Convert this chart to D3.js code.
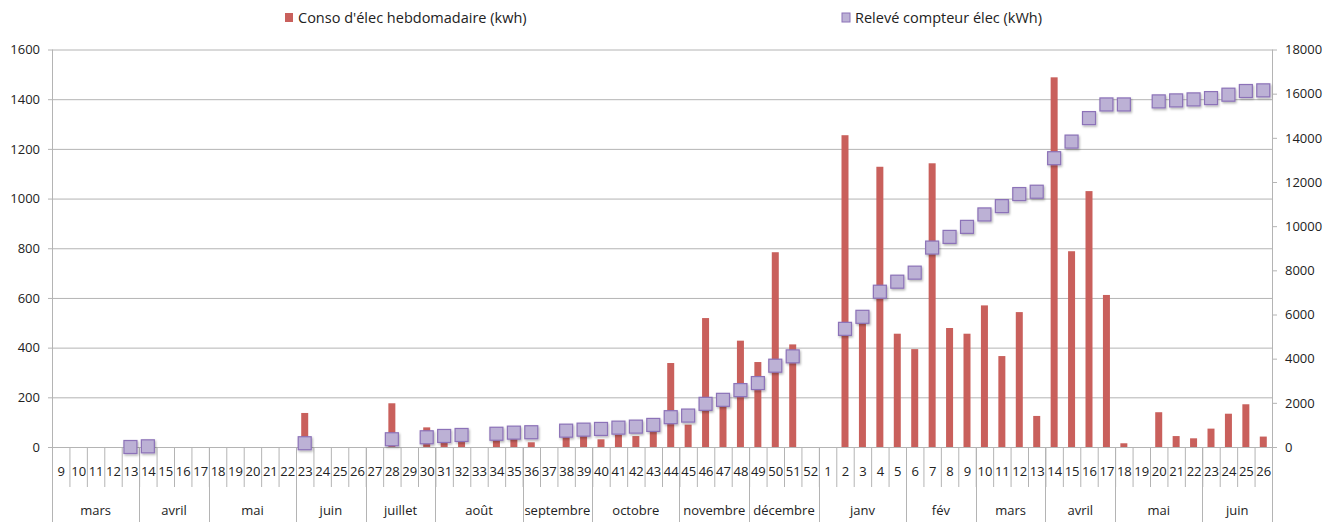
<!DOCTYPE html>
<html>
<head>
<meta charset="utf-8">
<script src="https://cdn.jsdelivr.net/npm/d3@7"></script>
<style>
body { margin: 0; background: #fff; }
text { font-family: "Open Sans", "Liberation Sans", sans-serif; fill: #222; }
</style>
</head>
<body>
<svg id="chart" width="1325" height="522"></svg>
<script>
//
// Data
//
var weeks = [
	"9","10","11","12","13","14","15","16","17","18","19","20","21","22","23","24","25","26",
	"27","28","29","30","31","32","33","34","35","36","37","38","39","40","41","42","43","44",
	"45","46","47","48","49","50","51","52",
	"1","2","3","4","5","6","7","8","9","10","11","12","13","14","15","16","17","18","19","20",
	"21","22","23","24","25","26"
];
var months = ["mars","avril","mai","juin","juillet","août","septembre","octobre","novembre","décembre",
	"janv","fév","mars","avril","mai","juin"];
var monthWeeks = [5,4,5,4,4,5,4,5,4,4,5,4,4,4,5,4];

// Conso d'élec hebdomadaire (kwh)
var conso = [
	null,null,null,null,null,null,null,null,null,null,null,null,null,null,137,null,null,null,
	null,176,null,79,50,40,null,35,35,19,null,45,45,31,50,44,62,338,
	90,519,170,428,342,784,413,null,
	null,1255,520,1128,456,394,1142,479,456,570,366,543,125,1488,788,1030,612,15,null,140,
	44,35,74,134,172,42
];
// Relevé compteur élec (kWh)
var releve = [
	null,null,null,null,0,30,null,null,null,null,null,null,null,null,170,null,null,null,
	null,350,null,440,500,545,null,600,650,668,null,740,786,818,877,923,1000,1350,
	1423,1954,2136,2577,2895,3682,4104,null,
	null,5350,5895,7032,7486,7895,9031,9514,9968,10531,10908,11454,11560,13077,13830,14894,15512,15512,null,15650,
	15695,15740,15800,15954,16120,16150
];
var leftTicks = [0,200,400,600,800,1000,1200,1400,1600];
var rightTicks = [0,2000,4000,6000,8000,10000,12000,14000,16000,18000];

//
// Layout
//
var margin = {left: 52, right: 53, top: 49.5, bottom: 75};
var width = 1325 - margin.left - margin.right;
var height = 522 - margin.top - margin.bottom;
var gridColor = "#b4b4b4";

var svg = d3.select("#chart");
var defs = svg.append("defs");
var shadow = defs.append("filter").attr("id", "shadow")
	.attr("x", "-50%").attr("y", "-50%").attr("width", "200%").attr("height", "200%");
shadow.append("feDropShadow").attr("dx", 1).attr("dy", 1.5).attr("stdDeviation", 1)
	.attr("flood-color", "#000").attr("flood-opacity", 0.3);

var g = svg.append("g").attr("transform", "translate(" + margin.left + "," + margin.top + ")");

var idx = d3.range(weeks.length);
var x = d3.scaleBand().domain(idx).range([0, width]).padding(0);
var y = d3.scaleLinear().domain([0, 1600]).range([height, 0]);
var y2 = d3.scaleLinear().domain([0, 18000]).range([height, 0]);

// gridlines + left labels
var left = g.append("g").call(d3.axisLeft(y).tickValues(leftTicks).tickFormat(d3.format("d"))
	.tickSize(-width).tickPadding(12));
left.select(".domain").remove();
left.selectAll(".tick line").attr("stroke", gridColor).attr("x1", -4);
left.selectAll(".tick text").style("font-size", "13px");

// right axis
var right = g.append("g").attr("transform", "translate(" + width + ",0)")
	.call(d3.axisRight(y2).tickValues(rightTicks).tickFormat(d3.format("d")).tickSize(5).tickPadding(8));
right.select(".domain").remove();
right.selectAll(".tick line").attr("stroke", gridColor);
right.selectAll(".tick text").style("font-size", "13px");

// category separators
var bottom = g.append("g").attr("transform", "translate(0," + height + ")");
bottom.selectAll("line.week").data(idx.slice(1)).enter().append("line")
	.attr("class", "week")
	.attr("x1", function(d) { return x(d) + 0.5; }).attr("x2", function(d) { return x(d) + 0.5; })
	.attr("y1", 0).attr("y2", 40)
	.attr("stroke", gridColor);

var bounds = [0];
monthWeeks.forEach(function(n) { bounds.push(bounds[bounds.length - 1] + n); });
bottom.selectAll("line.month").data(bounds).enter().append("line")
	.attr("class", "month")
	.attr("x1", function(d) { return Math.round(d * x.bandwidth()) + 0.5; })
	.attr("x2", function(d) { return Math.round(d * x.bandwidth()) + 0.5; })
	.attr("y1", function(d, i) { return (i == 0 || i == bounds.length - 1) ? -height : 0; })
	.attr("y2", margin.bottom)
	.attr("stroke", gridColor);

bottom.selectAll("text.week").data(idx).enter().append("text")
	.attr("class", "week")
	.attr("x", function(d) { return x(d) + x.bandwidth() / 2 + 0.5; })
	.attr("y", 29)
	.attr("text-anchor", "middle")
	.style("font-size", "13px")
	.text(function(d) { return weeks[d]; });

bottom.selectAll("text.month").data(months).enter().append("text")
	.attr("class", "month")
	.attr("x", function(d, i) { return (bounds[i] + bounds[i + 1]) / 2 * x.bandwidth(); })
	.attr("y", 68)
	.attr("text-anchor", "middle")
	.style("font-size", "13px")
	.text(function(d) { return d; });

// baseline
g.append("line").attr("x1", 0).attr("x2", width).attr("y1", height + 0.5).attr("y2", height + 0.5)
	.attr("stroke", gridColor);

// bars
var barW = 7;
g.selectAll("rect.bar").data(idx.filter(function(i) { return conso[i] != null; })).enter().append("rect")
	.attr("class", "bar")
	.attr("x", function(i) { return x(i) + x.bandwidth() / 2 - barW / 2; })
	.attr("y", function(i) { return y(conso[i]); })
	.attr("width", barW)
	.attr("height", function(i) { return height - y(conso[i]); })
	.attr("fill", "#c9605c");

// markers
var mS = 13;
g.selectAll("rect.mark").data(idx.filter(function(i) { return releve[i] != null; })).enter().append("rect")
	.attr("class", "mark")
	.attr("x", function(i) { return x(i) + x.bandwidth() / 2 - mS / 2; })
	.attr("y", function(i) { return y2(releve[i]) - mS / 2; })
	.attr("width", mS).attr("height", mS)
	.attr("fill", "#bcb1d5")
	.attr("stroke", "#8c72b8")
	.attr("stroke-width", 1.2)
	.attr("filter", "url(#shadow)");

// legend
var legend = [
	{name: "Conso d'élec hebdomadaire (kwh)", fill: "#c9605c", stroke: "none", x: 285},
	{name: "Relevé compteur élec (kWh)", fill: "#bcb1d5", stroke: "#8c72b8", x: 842}
];
var lg = svg.selectAll("g.legend").data(legend).enter().append("g")
	.attr("class", "legend")
	.attr("transform", function(d) { return "translate(" + d.x + ",13)"; });
lg.append("rect").attr("width", 8).attr("height", 9)
	.attr("fill", function(d) { return d.fill; })
	.attr("stroke", function(d) { return d.stroke; });
lg.append("text").attr("x", 13).attr("y", 9.5)
	.style("font-size", "14.5px")
	.text(function(d) { return d.name; });
</script>
</body>
</html>
